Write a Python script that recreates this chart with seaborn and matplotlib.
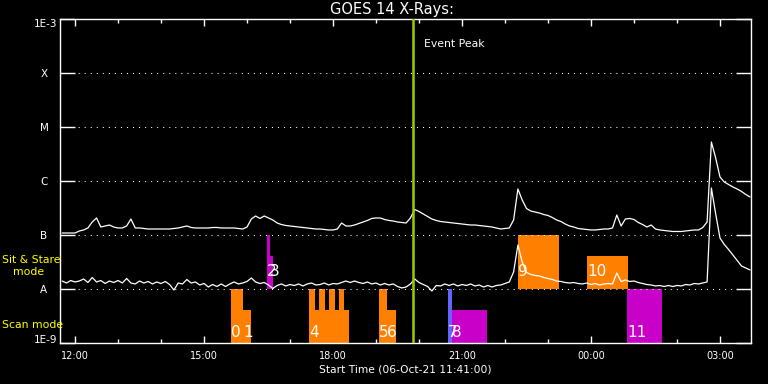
import numpy as np
import pandas as pd
import matplotlib
matplotlib.use('Agg')
import matplotlib.pyplot as plt
from matplotlib.ticker import NullLocator
import seaborn as sns

# ========== GOES 14 XRS data (hours since 00:00 of 06-Oct-21) ==========
xrs_start = 11.7      # first sample
xrs_cadence = 0.1     # hours between samples

# log10 flux (W/m^2), long channel (upper curve)
long_log10 = [
    -6.963, -6.963, -6.963, -6.963, -6.926, -6.907, -6.870, -6.759, -6.685, -6.852,
    -6.833, -6.815, -6.852, -6.870, -6.870, -6.833, -6.704, -6.870, -6.870, -6.880,
    -6.889, -6.889, -6.889, -6.889, -6.889, -6.889, -6.880, -6.870, -6.852, -6.833,
    -6.861, -6.870, -6.870, -6.870, -6.870, -6.861, -6.861, -6.870, -6.870, -6.870,
    -6.870, -6.880, -6.889, -6.852, -6.704, -6.648, -6.694, -6.648, -6.685, -6.722,
    -6.778, -6.806, -6.824, -6.833, -6.843, -6.852, -6.861, -6.870, -6.880, -6.889,
    -6.889, -6.898, -6.907, -6.907, -6.889, -6.778, -6.833, -6.833, -6.815, -6.787,
    -6.759, -6.731, -6.694, -6.685, -6.685, -6.713, -6.731, -6.741, -6.759, -6.769,
    -6.778, -6.685, -6.528, -6.565, -6.611, -6.657, -6.704, -6.731, -6.750, -6.759,
    -6.769, -6.778, -6.787, -6.796, -6.806, -6.815, -6.815, -6.824, -6.833, -6.843,
    -6.852, -6.870, -6.889, -6.880, -6.870, -6.722, -6.148, -6.352, -6.509, -6.556,
    -6.574, -6.593, -6.620, -6.639, -6.676, -6.722, -6.750, -6.796, -6.833, -6.852,
    -6.880, -6.889, -6.898, -6.907, -6.907, -6.898, -6.889, -6.889, -6.870, -6.630,
    -6.833, -6.704, -6.694, -6.713, -6.769, -6.806, -6.852, -6.815, -6.889, -6.907,
    -6.917, -6.926, -6.935, -6.935, -6.935, -6.926, -6.917, -6.907, -6.907, -6.861,
    -6.759, -5.278, -5.574, -5.926, -6.019, -6.065, -6.111, -6.148, -6.194, -6.250,
    -6.296,
]

# log10 flux (W/m^2), short channel (lower curve)
short_log10 = [
    -7.852, -7.889, -7.843, -7.870, -7.852, -7.815, -7.880, -7.787, -7.870, -7.843,
    -7.898, -7.852, -7.880, -7.843, -7.889, -7.806, -7.889, -7.907, -7.852, -7.889,
    -7.861, -7.907, -7.870, -7.898, -7.861, -7.917, -8.019, -7.889, -7.907, -7.824,
    -7.889, -7.870, -7.926, -7.898, -7.963, -7.917, -7.954, -7.907, -7.954, -7.907,
    -7.870, -7.907, -7.889, -7.861, -7.796, -7.870, -7.898, -7.880, -7.926, -7.991,
    -7.935, -7.907, -7.944, -7.917, -7.935, -7.907, -7.944, -7.907, -7.889, -7.926,
    -7.917, -7.889, -7.926, -7.898, -7.907, -7.880, -7.852, -7.880, -7.852, -7.880,
    -7.898, -7.870, -7.907, -7.889, -7.926, -7.898, -7.926, -7.907, -7.954, -7.981,
    -7.963, -7.907, -7.815, -7.880, -7.917, -7.954, -8.037, -7.935, -7.944, -7.907,
    -7.935, -7.907, -7.944, -7.917, -7.935, -7.907, -7.944, -7.926, -7.963, -7.935,
    -7.963, -7.935, -7.926, -7.898, -7.870, -7.685, -7.185, -7.500, -7.694, -7.731,
    -7.750, -7.759, -7.787, -7.806, -7.824, -7.852, -7.861, -7.880, -7.889, -7.880,
    -7.898, -7.907, -7.889, -7.917, -7.898, -7.926, -7.907, -7.898, -7.907, -7.704,
    -7.861, -7.833, -7.861, -7.852, -7.880, -7.898, -7.917, -7.926, -7.944, -7.935,
    -7.954, -7.935, -7.954, -7.935, -7.944, -7.917, -7.926, -7.898, -7.907, -7.889,
    -7.870, -6.130, -6.611, -7.056, -7.176, -7.269, -7.370, -7.472, -7.574, -7.611,
    -7.648,
]

# ========== Observation blocks ==========
obs_label = ['0', '1', '2', '3', '4', '', '', '', '', '5', '6', '7', '8', '9', '10', '11']
obs_start = [15.63, 15.91, 16.47, 16.53, 17.44, 17.44, 17.67, 17.91, 18.14,
             19.07, 19.26, 20.67, 20.77, 22.30, 23.91, 24.84]
obs_end = [15.91, 16.09, 16.53, 16.60, 18.37, 17.58, 17.81, 18.05, 18.26,
           19.26, 19.46, 20.77, 21.58, 23.26, 24.86, 25.64]
obs_mode = ['scan', 'scan', 'stare', 'stare', 'scan', 'scan', 'scan', 'scan', 'scan',
            'scan', 'scan', 'scan', 'scan', 'stare', 'stare', 'scan']
obs_fill = [1.0, 0.61, 1.0, 0.61, 0.61, 1.0, 1.0, 1.0, 1.0,
            1.0, 0.61, 1.0, 0.61, 1.0, 0.61, 1.0]  # fraction of the band's decade
obs_color = ['#ff8000', '#ff8000', '#c800c8', '#c800c8', '#ff8000', '#ff8000', '#ff8000',
             '#ff8000', '#ff8000', '#ff8000', '#ff8000', '#6464ff', '#c800c8',
             '#ff8000', '#ff8000', '#c800c8']

event_peak = 19.87

level_names = ['1E-9', 'A', 'B', 'C', 'M', 'X', '1E-3']
level_exp = [-9, -8, -7, -6, -5, -4, -3]

hour_ticks = [12, 15, 18, 21, 24, 27]
hour_labels = ['12:00', '15:00', '18:00', '21:00', '00:00', '03:00']

band_bottom = {'scan': 1e-9, 'stare': 1e-8}
band_text_y = {'scan': 1.55e-9, 'stare': 2.07e-8}

# ========== Plot ==========
sns.set_style('dark')
plt.rcParams['font.family'] = ['DejaVu Sans']

fig = plt.figure(figsize=(7.68, 3.84), dpi=100, facecolor='black')
ax = fig.add_axes([0.0781, 0.1068, 0.8997, 0.8437])
ax.set_facecolor('black')
ax.set_yscale('log')

# observation blocks
for s, e, mode, frac, col, lab in zip(obs_start, obs_end, obs_mode, obs_fill, obs_color, obs_label):
    lo = band_bottom[mode]
    hi = lo * 10 ** frac
    ax.bar(s, hi - lo, bottom=lo, width=e - s, align='edge', color=col, linewidth=0, zorder=1)
    if lab:
        ax.text(s, band_text_y[mode], lab, color='white', fontsize=11, ha='left',
                va='center', zorder=5)

# dotted class levels
for ex in level_exp[1:-1]:
    ax.axhline(10.0 ** ex, color='white', lw=0.75, ls=(0, (1, 4.8)), zorder=2)

hours = xrs_start + xrs_cadence * np.arange(len(long_log10))
df = pd.DataFrame({'hour': hours,
                   'long': 10.0 ** np.array(long_log10),
                   'short': 10.0 ** np.array(short_log10)})
sns.lineplot(data=df, x='hour', y='long', color='white', lw=0.9, ax=ax, zorder=3)
sns.lineplot(data=df, x='hour', y='short', color='white', lw=0.9, ax=ax, zorder=3)

ax.axvline(event_peak, color='#9acd00', lw=1.8, zorder=4)
ax.text(event_peak + 0.24, 3.6e-4, 'Event Peak', color='white', fontsize=7.8,
        va='center_baseline', ha='left')

ax.set_xlim(11.65, 27.72)
ax.set_ylim(1e-9, 1e-3)
ax.grid(False)

# axes frame and ticks
for sp in ax.spines.values():
    sp.set_color('white')
    sp.set_linewidth(1)

ax.set_yticks([10.0 ** ex for ex in level_exp])
ax.yaxis.set_minor_locator(NullLocator())
ax.tick_params(axis='y', which='major', direction='in', length=10.8, width=1,
               color='white', left=True, right=True, labelleft=False)

ax.set_xticks(hour_ticks)
ax.set_xticklabels(hour_labels)
ax.set_xticks(range(12, 28), minor=True)
ax.tick_params(axis='x', which='major', direction='in', length=5, width=1, colors='white',
               top=True, bottom=True, labelsize=7, pad=6)
ax.tick_params(axis='x', which='minor', direction='in', length=3, width=1, color='white',
               top=True, bottom=True)

ax.set_ylabel('')
ax.set_xlabel('Start Time (06-Oct-21 11:41:00)', color='white', fontsize=7.7, labelpad=2)

# y labels: decades at the ends, GOES classes in between
ytr = ax.get_yaxis_transform()
for name, ex in zip(level_names, level_exp):
    if name == '1E-3':
        ax.text(-0.0043, 10.0 ** ex, name, transform=ytr, color='white', fontsize=7.5,
                ha='right', va='top')
    elif name == '1E-9':
        ax.text(-0.0043, 10.0 ** ex, name, transform=ytr, color='white', fontsize=7.5,
                ha='right', va='baseline')
    else:
        ax.text(-0.0232, 10.0 ** ex, name, transform=ytr, color='white', fontsize=7.5,
                ha='center', va='center_baseline')

# mode labels on the left
ax.text(-0.0839, 3.6e-8, 'Sit & Stare', transform=ytr, color='#ffff00', fontsize=7.8,
        ha='left', va='center_baseline')
ax.text(-0.068, 2.15e-8, 'mode', transform=ytr, color='#ffff00', fontsize=7.8,
        ha='left', va='center_baseline')
ax.text(-0.0839, 2.25e-9, 'Scan mode', transform=ytr, color='#ffff00', fontsize=7.8,
        ha='left', va='center_baseline')

fig.text(0.51, 0.975, 'GOES 14 X-Rays:', color='white', fontsize=10.5,
         ha='center', va='center')

fig.savefig('out.png', dpi=100, facecolor='black')
